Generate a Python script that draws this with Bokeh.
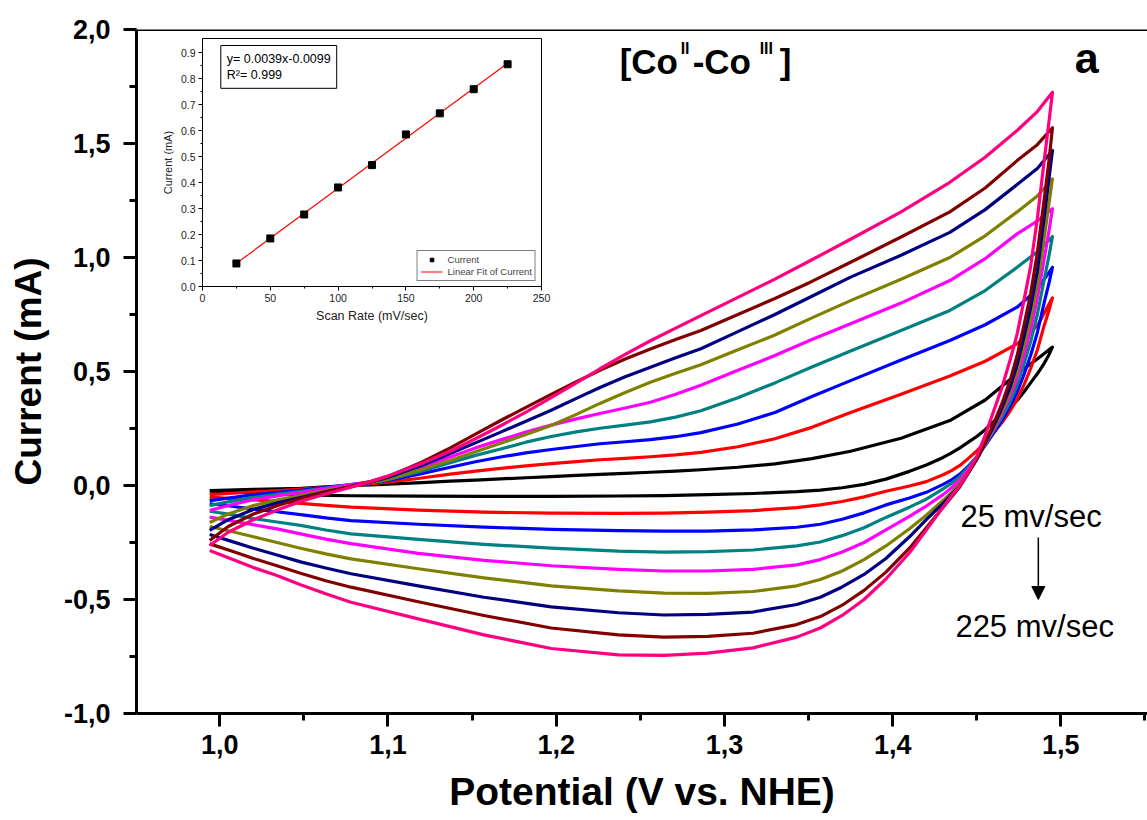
import numpy as np
from bokeh.plotting import figure
from bokeh.models import (Range1d, FixedTicker, Span, Label, Arrow, NormalHead,
                          Legend, LegendItem)
from bokeh.layouts import row
from bokeh.embed import file_html
from bokeh.resources import INLINE

# ---------------- data ----------------
scan_labels = ["25", "50", "75", "100", "125", "150", "175", "200", "225"]
curve_colors = ["#000000", "#ff0000", "#0000ff", "#008080", "#ff00ff",
                "#808000", "#000080", "#800000", "#ff0080"]

potential_anodic = [0.994, 1.005, 1.020, 1.035, 1.048, 1.063, 1.078, 1.090, 1.100, 1.120,
                    1.137, 1.152, 1.167, 1.182, 1.197, 1.212, 1.226, 1.241, 1.256, 1.271,
                    1.286, 1.308, 1.330, 1.352, 1.375, 1.405, 1.434, 1.455, 1.474, 1.486, 1.495]
potential_cathodic = [1.495, 1.493, 1.490, 1.486, 1.482, 1.478, 1.474, 1.470, 1.465, 1.460,
                      1.455, 1.450, 1.445, 1.440, 1.435, 1.430, 1.420, 1.410, 1.396, 1.383,
                      1.370, 1.357, 1.343, 1.317, 1.290, 1.264, 1.237, 1.197, 1.157, 1.118,
                      1.078, 1.063, 1.048, 1.034, 1.020, 1.007, 0.994]

black_a = [-0.022, -0.020, -0.017, -0.015, -0.012, -0.006, 0.000, 0.003, 0.006, 0.013,
           0.019, 0.024, 0.029, 0.034, 0.039, 0.044, 0.049, 0.053, 0.058, 0.063,
           0.069, 0.080, 0.095, 0.118, 0.150, 0.207, 0.285, 0.375, 0.490, 0.555, 0.607]
red_a = [-0.040, -0.035, -0.028, -0.022, -0.016, -0.008, 0.000, 0.008, 0.015, 0.033,
         0.050, 0.063, 0.075, 0.086, 0.096, 0.105, 0.113, 0.119, 0.126, 0.134,
         0.145, 0.170, 0.205, 0.255, 0.320, 0.400, 0.480, 0.545, 0.621, 0.700, 0.823]
blue_a = [-0.066, -0.055, -0.040, -0.030, -0.021, -0.008, 0.004, 0.013, 0.022, 0.052,
          0.080, 0.104, 0.125, 0.143, 0.158, 0.171, 0.183, 0.192, 0.201, 0.214,
          0.232, 0.270, 0.320, 0.390, 0.460, 0.550, 0.636, 0.705, 0.782, 0.860, 0.957]
teal_a = [-0.088, -0.072, -0.052, -0.038, -0.026, -0.011, 0.004, 0.014, 0.025, 0.063,
          0.100, 0.132, 0.160, 0.190, 0.215, 0.235, 0.251, 0.265, 0.279, 0.300,
          0.328, 0.385, 0.450, 0.520, 0.590, 0.680, 0.768, 0.855, 0.957, 1.025, 1.092]
magenta_a = [-0.110, -0.088, -0.062, -0.045, -0.031, -0.013, 0.004, 0.017, 0.030, 0.080,
             0.125, 0.165, 0.200, 0.235, 0.265, 0.292, 0.316, 0.340, 0.365, 0.400,
             0.440, 0.505, 0.570, 0.640, 0.709, 0.800, 0.899, 0.995, 1.104, 1.160, 1.214]
olive_a = [-0.162, -0.125, -0.088, -0.062, -0.044, -0.022, -0.004, 0.012, 0.028, 0.070,
           0.110, 0.148, 0.185, 0.224, 0.263, 0.312, 0.360, 0.408, 0.453, 0.492,
           0.530, 0.595, 0.660, 0.735, 0.811, 0.905, 1.000, 1.095, 1.200, 1.270, 1.345]
navy_a = [-0.197, -0.150, -0.105, -0.075, -0.053, -0.028, -0.005, 0.015, 0.035, 0.088,
          0.140, 0.187, 0.234, 0.282, 0.330, 0.382, 0.430, 0.477, 0.519, 0.560,
          0.600, 0.675, 0.750, 0.830, 0.914, 1.010, 1.110, 1.210, 1.320, 1.390, 1.469]
maroon_a = [-0.241, -0.180, -0.125, -0.087, -0.057, -0.029, -0.004, 0.018, 0.040, 0.102,
            0.165, 0.225, 0.285, 0.343, 0.400, 0.455, 0.505, 0.555, 0.599, 0.640,
            0.680, 0.750, 0.820, 0.895, 0.979, 1.090, 1.200, 1.305, 1.425, 1.495, 1.569]
pink_a = [-0.263, -0.205, -0.150, -0.105, -0.070, -0.037, -0.008, 0.018, 0.042, 0.096,
          0.150, 0.205, 0.262, 0.322, 0.385, 0.450, 0.512, 0.575, 0.635, 0.690,
          0.745, 0.825, 0.905, 0.990, 1.080, 1.200, 1.330, 1.440, 1.557, 1.640, 1.725]

black_c = [0.607, 0.575, 0.535, 0.490, 0.450, 0.410, 0.373, 0.345, 0.310, 0.280,
           0.245, 0.215, 0.190, 0.165, 0.143, 0.123, 0.090, 0.062, 0.028, 0.005,
           -0.010, -0.020, -0.027, -0.035, -0.040, -0.044, -0.046, -0.048, -0.048, -0.047,
           -0.045, -0.043, -0.040, -0.036, -0.032, -0.028, -0.025]
red_c = [0.823, 0.770, 0.700, 0.594, 0.512, 0.440, 0.378, 0.329, 0.276, 0.231,
         0.191, 0.151, 0.119, 0.088, 0.065, 0.047, 0.017, -0.002, -0.025, -0.050,
         -0.070, -0.085, -0.097, -0.110, -0.117, -0.121, -0.122, -0.121, -0.117, -0.108,
         -0.095, -0.087, -0.078, -0.070, -0.063, -0.057, -0.051]
blue_c = [0.957, 0.890, 0.800, 0.670, 0.570, 0.485, 0.410, 0.350, 0.285, 0.230,
          0.175, 0.125, 0.085, 0.050, 0.025, 0.005, -0.030, -0.055, -0.085, -0.120,
          -0.148, -0.170, -0.183, -0.195, -0.200, -0.200, -0.198, -0.192, -0.183, -0.170,
          -0.154, -0.142, -0.128, -0.115, -0.103, -0.091, -0.080]
teal_c = [1.092, 1.010, 0.900, 0.750, 0.630, 0.530, 0.440, 0.370, 0.300, 0.240,
          0.180, 0.125, 0.080, 0.040, 0.010, -0.015, -0.060, -0.095, -0.140, -0.185,
          -0.220, -0.248, -0.265, -0.283, -0.290, -0.292, -0.288, -0.275, -0.258, -0.236,
          -0.212, -0.195, -0.175, -0.160, -0.145, -0.128, -0.113]
magenta_c = [1.214, 1.120, 0.990, 0.820, 0.680, 0.570, 0.470, 0.395, 0.315, 0.245,
             0.180, 0.120, 0.070, 0.025, -0.010, -0.040, -0.090, -0.135, -0.195, -0.250,
             -0.292, -0.325, -0.348, -0.368, -0.375, -0.375, -0.368, -0.352, -0.328, -0.298,
             -0.255, -0.235, -0.212, -0.190, -0.172, -0.155, -0.139]
olive_c = [1.345, 1.240, 1.080, 0.880, 0.730, 0.610, 0.500, 0.415, 0.325, 0.250,
           0.180, 0.115, 0.060, 0.010, -0.030, -0.065, -0.130, -0.190, -0.265, -0.325,
           -0.375, -0.412, -0.440, -0.465, -0.473, -0.472, -0.462, -0.440, -0.405, -0.365,
           -0.322, -0.300, -0.275, -0.250, -0.225, -0.202, -0.180]
navy_c = [1.469, 1.350, 1.170, 0.940, 0.780, 0.650, 0.530, 0.435, 0.340, 0.260,
          0.185, 0.115, 0.055, 0.000, -0.040, -0.078, -0.150, -0.225, -0.320, -0.390,
          -0.445, -0.490, -0.522, -0.555, -0.565, -0.568, -0.558, -0.532, -0.490, -0.440,
          -0.387, -0.362, -0.335, -0.305, -0.275, -0.245, -0.215]
maroon_c = [1.569, 1.430, 1.250, 1.020, 0.840, 0.700, 0.570, 0.465, 0.360, 0.270,
            0.190, 0.115, 0.055, -0.005, -0.050, -0.095, -0.185, -0.275, -0.380, -0.460,
            -0.525, -0.575, -0.610, -0.648, -0.662, -0.665, -0.655, -0.625, -0.570, -0.510,
            -0.446, -0.418, -0.385, -0.352, -0.320, -0.287, -0.256]
pink_c = [1.725, 1.600, 1.420, 1.170, 0.960, 0.810, 0.664, 0.555, 0.430, 0.325,
          0.220, 0.127, 0.060, 0.000, -0.045, -0.095, -0.195, -0.295, -0.410, -0.500,
          -0.570, -0.625, -0.665, -0.712, -0.735, -0.745, -0.743, -0.715, -0.655, -0.585,
          -0.512, -0.475, -0.435, -0.395, -0.360, -0.322, -0.285]

anodic_sets = [black_a, red_a, blue_a, teal_a, magenta_a, olive_a, navy_a, maroon_a, pink_a]
cathodic_sets = [black_c, red_c, blue_c, teal_c, magenta_c, olive_c, navy_c, maroon_c, pink_c]

x_tick_values = [1.0, 1.1, 1.2, 1.3, 1.4, 1.5]
x_tick_labels = ["1,0", "1,1", "1,2", "1,3", "1,4", "1,5"]
x_minor_values = [0.95, 1.05, 1.15, 1.25, 1.35, 1.45, 1.55]
y_tick_values = [-1.0, -0.5, 0.0, 0.5, 1.0, 1.5, 2.0]
y_tick_labels = ["-1,0", "-0,5", "0,0", "0,5", "1,0", "1,5", "2,0"]
y_minor_values = [-0.75, -0.25, 0.25, 0.75, 1.25, 1.75]

# inset data
scan_rate = [25, 50, 75, 100, 125, 150, 175, 200, 225]
peak_current = [0.0886, 0.1849, 0.277, 0.381, 0.467, 0.585, 0.666, 0.759, 0.855]
inset_x_ticks = [0, 50, 100, 150, 200, 250]
inset_x_minor = [25, 75, 125, 175, 225]
inset_y_ticks = [0.0, 0.1, 0.2, 0.3, 0.4, 0.5, 0.6, 0.7, 0.8, 0.9]
inset_y_labels = ["0.0", "0.1", "0.2", "0.3", "0.4", "0.5", "0.6", "0.7", "0.8", "0.9"]
inset_y_minor = [0.05, 0.15, 0.25, 0.35, 0.45, 0.55, 0.65, 0.75, 0.85]

FONT = "Liberation Sans"

# ---------------- main figure ----------------
p = figure(width=1147, height=820,
           x_range=Range1d(0.9505, 1.5515), y_range=Range1d(-1.0, 2.0),
           output_backend="svg", toolbar_location=None,
           min_border_left=136, min_border_right=0,
           min_border_top=29, min_border_bottom=107)
p.outline_line_color = None
p.grid.visible = False
p.background_fill_color = "white"
p.border_fill_color = "white"

for ax in (p.xaxis[0], p.yaxis[0]):
    ax.axis_line_width = 3
    ax.major_tick_line_width = 3
    ax.minor_tick_line_width = 3
    ax.major_tick_in = 0
    ax.major_tick_out = 13
    ax.minor_tick_in = 0
    ax.minor_tick_out = 7
    ax.major_label_text_font = FONT
    ax.major_label_text_font_style = "bold"
    ax.major_label_text_font_size = "27px"
    ax.major_label_text_color = "black"
    ax.axis_label_text_font = FONT
    ax.axis_label_text_font_style = "bold"
    ax.axis_label_text_color = "black"

p.xaxis[0].ticker = FixedTicker(ticks=x_tick_values, minor_ticks=x_minor_values)
p.xaxis[0].major_label_overrides = dict(zip(x_tick_values, x_tick_labels))
p.xaxis[0].axis_label = "Potential (V vs. NHE)"
p.xaxis[0].axis_label_text_font_size = "39px"
p.xaxis[0].major_label_standoff = 8
p.xaxis[0].axis_label_standoff = 13

p.yaxis[0].ticker = FixedTicker(ticks=y_tick_values, minor_ticks=y_minor_values)
p.yaxis[0].major_label_overrides = dict(zip(y_tick_values, y_tick_labels))
p.yaxis[0].axis_label = "Current (mA)"
p.yaxis[0].axis_label_text_font_size = "37px"
p.yaxis[0].major_label_standoff = 13
p.yaxis[0].axis_label_standoff = 12

p.add_layout(Span(location=2.0, dimension="width", line_color="black", line_width=3))

for ya, yc, col in zip(anodic_sets, cathodic_sets, curve_colors):
    xs = potential_anodic + potential_cathodic
    ys = ya + yc
    p.line(xs, ys, line_color=col, line_width=3.2, line_join="round")


def add_text(fig, x, y, txt, size, bold=False, dx=0, dy=0):
    # baseline correction of ~0.4 em keeps the alphabetic baseline at y
    fig.add_layout(Label(x=x, y=y, x_offset=dx, y_offset=dy + 0.4 * size, text=txt,
                         text_font=FONT, text_font_style="bold" if bold else "normal",
                         text_font_size=f"{size}px", text_color="black",
                         text_baseline="alphabetic", text_align="left"))


# title pieces [Co^II-Co^III]
tx, ty = 1.2377, 1.80
for txt, dx, dy, fs in [("[Co", 0, 0, 35), ("II", 61, 20, 16), ("-Co", 73, 0, 35),
                        ("III", 140, 20, 16), ("]", 160, 0, 35)]:
    add_text(p, tx, ty, txt, fs, bold=True, dx=dx, dy=dy)
add_text(p, 1.5083, 1.80, "a", 43, bold=True)

add_text(p, 1.4403, -0.189, scan_labels[0] + " mv/sec", 31)
add_text(p, 1.4373, -0.671, scan_labels[-1] + " mv/sec", 31)
p.add_layout(Arrow(end=NormalHead(size=13, fill_color="black", line_color="black"),
                   x_start=1.4866, y_start=-0.228, x_end=1.4866, y_end=-0.50,
                   line_color="black", line_width=1.5))

# ---------------- inset ----------------
inset = figure(frame_width=339, frame_height=248,
               x_range=Range1d(0, 250), y_range=Range1d(0, 0.954),
               output_backend="svg", toolbar_location=None,
               min_border_left=50, min_border_right=12,
               min_border_top=29, min_border_bottom=107)
inset.background_fill_color = None
inset.border_fill_color = None
inset.outline_line_color = "black"
inset.outline_line_width = 1
inset.grid.visible = False

for ax in (inset.xaxis[0], inset.yaxis[0]):
    ax.axis_line_width = 1
    ax.major_tick_in = 0
    ax.major_tick_out = 4
    ax.minor_tick_in = 0
    ax.minor_tick_out = 2
    ax.major_label_text_font = FONT
    ax.major_label_text_font_size = "10.5px"
    ax.major_label_text_color = "#222222"
    ax.major_label_standoff = 3
    ax.axis_label_text_font = FONT
    ax.axis_label_text_font_style = "normal"
    ax.axis_label_text_color = "#222222"
    ax.axis_label_standoff = 4

inset.xaxis[0].ticker = FixedTicker(ticks=inset_x_ticks, minor_ticks=inset_x_minor)
inset.xaxis[0].axis_label = "Scan Rate (mV/sec)"
inset.xaxis[0].axis_label_text_font_size = "12.5px"
inset.yaxis[0].ticker = FixedTicker(ticks=inset_y_ticks, minor_ticks=inset_y_minor)
inset.yaxis[0].major_label_overrides = dict(zip(inset_y_ticks, inset_y_labels))
inset.yaxis[0].axis_label = "Current (mA)"
inset.yaxis[0].axis_label_text_font_size = "11px"

slope, intercept = np.polyfit(scan_rate, peak_current, 1)
fit_x = [scan_rate[0], scan_rate[-1]]
fit_y = [slope * v + intercept for v in fit_x]
fit_r = inset.line(fit_x, fit_y, line_color="red", line_width=1.2)
pts_r = inset.scatter(scan_rate, peak_current, marker="square", size=7,
                      fill_color="black", line_color="black")

legend = Legend(items=[LegendItem(label="Current", renderers=[pts_r]),
                       LegendItem(label="Linear Fit of Current", renderers=[fit_r])],
                location="bottom_right", margin=5, padding=3, spacing=1,
                glyph_width=22, glyph_height=9, label_height=9, label_standoff=5,
                label_text_font=FONT, label_text_font_size="9.5px",
                border_line_color="black", border_line_width=1,
                background_fill_color="white", background_fill_alpha=1.0)
inset.add_layout(legend)

inset.add_layout(Label(x=13.5, y=0.927, text="y= 0.0039x-0.0099\nR\u00b2= 0.999",
                       text_font=FONT, text_font_size="12.5px", text_color="black",
                       text_align="left", text_baseline="top",
                       border_line_color="black", border_line_width=1,
                       background_fill_color="white", padding=6))

inset.styles = {"position": "absolute", "left": "152px", "top": "9px", "z-index": "5"}

layout = row(p, inset)
open("out.html", "w").write(file_html(layout, INLINE))
